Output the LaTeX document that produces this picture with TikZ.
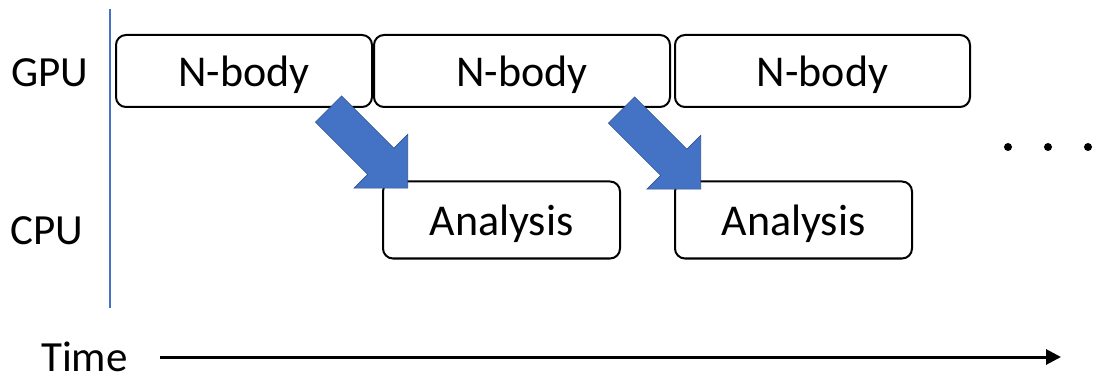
\documentclass[tikz,border=0pt]{standalone}
\usepackage{fontspec}
\setmainfont{Carlito}
\usetikzlibrary{arrows.meta}
\definecolor{accent}{HTML}{4472C4}
\definecolor{accentdark}{HTML}{2F528F}
\tikzset{
  txt/.style={font=\fontsize{43}{50}\selectfont, inner sep=0pt},
  task/.style={draw, line width=2pt, rounded corners=10pt, inner sep=0pt,
    text height=32pt, text depth=0pt, font=\fontsize{44}{50}\selectfont},
  handoff/.style={fill=accent, draw=accentdark, line width=0.6pt, line join=miter},
  dot/.style={circle, fill=black, inner sep=0pt, minimum size=8pt}
}
% block arrow pointing down-right, tail centre at the current origin
\newcommand{\handoffarrow}{%
  \path[handoff] (13.1,-13.1) -- (65.4,39.2) -- (79.2,25.4) -- (79.2,79.2)
    -- (25.4,79.2) -- (39.2,65.4) -- (-13.1,13.1) -- cycle;}
\begin{document}
\begin{tikzpicture}[x=1pt, y=-1pt]
\useasboundingbox (0,0) rectangle (1094,379);

% row labels
\node[txt, anchor=west] (gpu) at (11,73) {GPU};
\node[txt, anchor=west] (cpu) at (10,231) {CPU};

% separator between labels and timeline
\coordinate (septop) at (110,9);
\coordinate (sepbot) at (110,308);
\draw[accent, line width=1.6pt] (septop) -- (sepbot);

% GPU tasks
\node[task, minimum width=256pt, minimum height=72pt] (nb1) at (244,71) {N-body};
\node[task, minimum width=296pt, minimum height=72pt] (nb2) at (522,71) {N-body};
\node[task, minimum width=295pt, minimum height=72pt] (nb3) at (822.5,71) {N-body};

% CPU tasks
\node[task, minimum width=237pt, minimum height=77pt] (an1) at (501.5,220) {Analysis};
\node[task, minimum width=237pt, minimum height=77pt] (an2) at (793.5,220) {Analysis};

% hand-off arrows from GPU to CPU
\begin{scope}[shift={(328.5,109)}]\handoffarrow\end{scope}
\begin{scope}[shift={(621.5,110)}]\handoffarrow\end{scope}

% continuation dots
\node[dot] (d1) at (1008,147) {};
\node[dot] (d2) at (1048,147) {};
\node[dot] (d3) at (1088,147) {};

% time axis
\node[txt, anchor=west] (time) at (41,357) {Time};
\coordinate (tstart) at (160,357);
\coordinate (tend) at (1061,357);
\draw[line width=3pt, -{Triangle[length=15pt,width=15pt]}] (tstart) -- (tend);
\end{tikzpicture}
\end{document}
